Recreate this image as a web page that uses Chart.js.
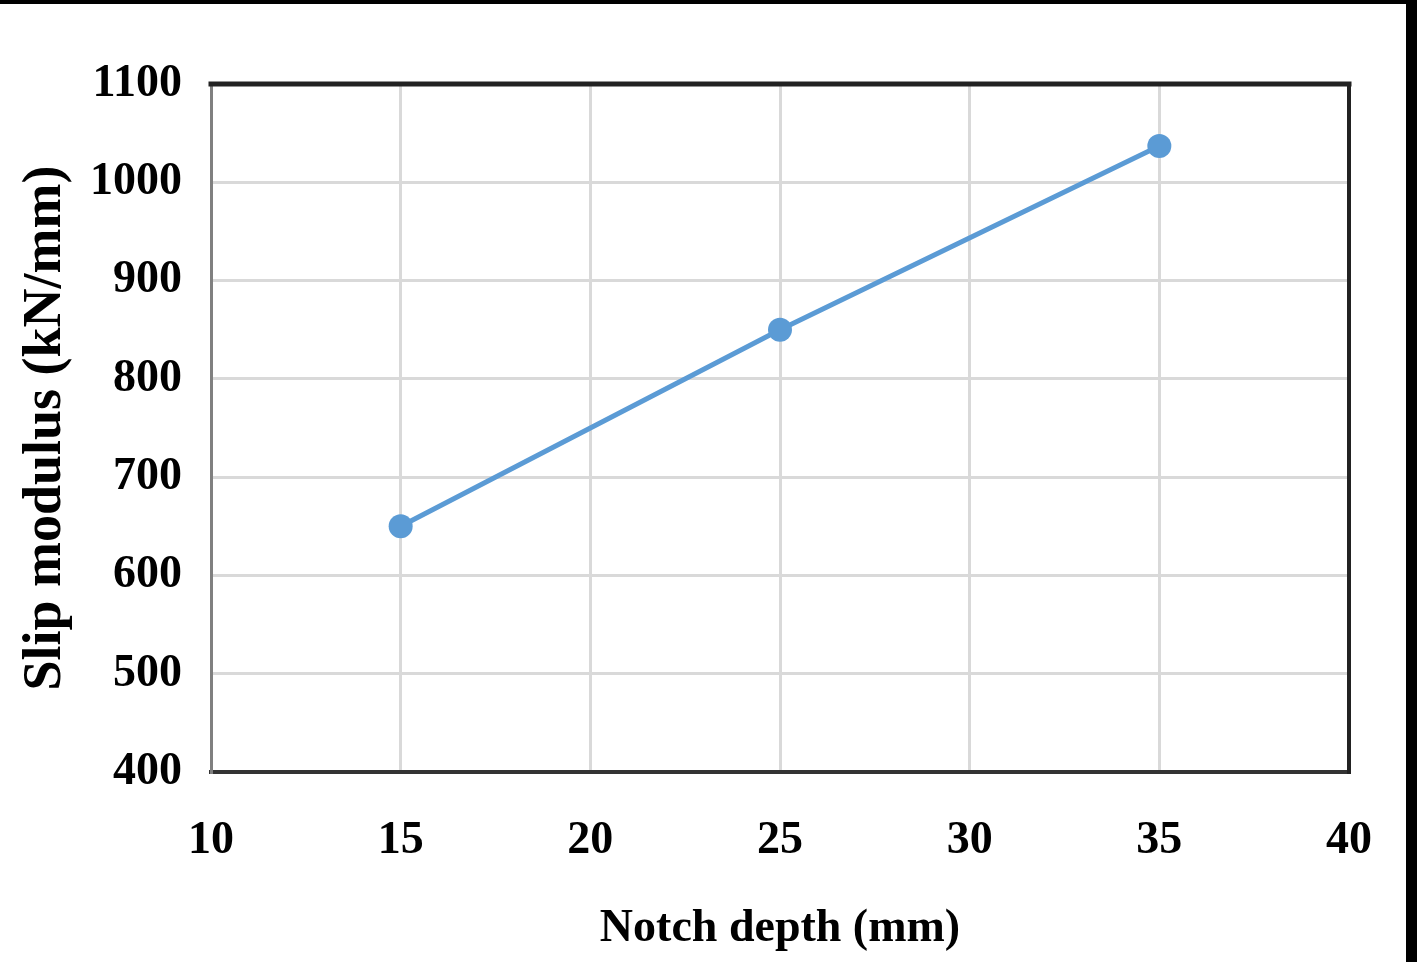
<!DOCTYPE html>
<html>
<head>
<meta charset="utf-8">
<title>Slip modulus vs notch depth</title>
<script src="https://cdn.jsdelivr.net/npm/chart.js@4.4.1/dist/chart.umd.min.js"></script>
<style>
    html, body { margin: 0; padding: 0; background: #fff; }
    #frame {
        width: 1406px;
        height: 958px;
        border-top: 4px solid #000;
        border-right: 11px solid #000;
        background: #fff;
    }
    #wrap { position: relative; width: 1406px; height: 958px; }
</style>
</head>
<body>
<div id="frame">
    <div id="wrap"><canvas id="chart"></canvas></div>
</div>
<script>
// Data
const notchDepth = [15, 25, 35];              // mm
const slipModulus = [650, 850, 1037];         // kN/mm
const xTickValues = [10, 15, 20, 25, 30, 35, 40];
const yTickValues = [400, 500, 600, 700, 800, 900, 1000, 1100];

const FONT_FAMILY = "'Liberation Serif', 'Times New Roman', serif";

// Dark frame on top and right of the plot area (Excel-style box)
const plotFrame = {
    id: 'plotFrame',
    afterDatasetsDraw(chart) {
        const { ctx, chartArea: a } = chart;
        ctx.save();
        ctx.lineCap = 'square';
        ctx.strokeStyle = '#222';
        ctx.lineWidth = 5;
        ctx.beginPath();
        ctx.moveTo(a.left, a.top);
        ctx.lineTo(a.right, a.top);
        ctx.stroke();
        ctx.lineWidth = 4;
        ctx.beginPath();
        ctx.moveTo(a.right, a.top);
        ctx.lineTo(a.right, a.bottom);
        ctx.stroke();
        ctx.restore();
    }
};

const ctx = document.getElementById('chart');
new Chart(ctx, {
    type: 'line',
    data: {
        datasets: [{
            label: 'Slip modulus',
            data: notchDepth.map((x, i) => ({ x: x, y: slipModulus[i] })),
            borderColor: '#5b9bd5',
            backgroundColor: '#5b9bd5',
            borderWidth: 5,
            pointRadius: 12,
            pointHoverRadius: 12,
            pointBorderWidth: 0,
            tension: 0
        }]
    },
    options: {
        responsive: true,
        maintainAspectRatio: false,
        animation: false,
        layout: { padding: { top: 80, right: 57, left: 0, bottom: 0 } },
        plugins: {
            legend: { display: false },
            tooltip: { enabled: false }
        },
        scales: {
            x: {
                type: 'linear',
                min: 10,
                max: 40,
                afterBuildTicks: s => { s.ticks = xTickValues.map(v => ({ value: v })); },
                afterFit: s => { s.height = 190; },
                // invisible tick marks just push the labels down
                grid: { color: '#d9d9d9', lineWidth: 3, drawTicks: true, tickLength: 12, tickColor: 'rgba(0,0,0,0)' },
                border: { color: '#333', width: 4 },
                ticks: {
                    color: '#000',
                    padding: 30,
                    maxRotation: 0,
                    callback: v => String(v),
                    font: { family: FONT_FAMILY, size: 46, weight: 'bold' }
                },
                title: {
                    display: true,
                    text: 'Notch depth (mm)',
                    color: '#000',
                    padding: { top: 0, bottom: 5 },
                    font: { family: FONT_FAMILY, size: 46, weight: 'bold' }
                }
            },
            y: {
                min: 400,
                max: 1100,
                afterBuildTicks: s => { s.ticks = yTickValues.map(v => ({ value: v })); },
                afterFit: s => { s.width = 211; },
                grid: { color: '#d9d9d9', lineWidth: 3, drawTicks: false },
                border: { color: '#808080', width: 3 },
                ticks: {
                    color: '#000',
                    padding: 29,
                    callback: v => String(v),
                    font: { family: FONT_FAMILY, size: 46, weight: 'bold' }
                },
                title: {
                    display: true,
                    text: 'Slip modulus (kN/mm)',
                    color: '#000',
                    padding: { top: 14, bottom: 0 },
                    font: { family: FONT_FAMILY, size: 54, weight: 'bold' }
                }
            }
        }
    },
    plugins: [plotFrame]
});
</script>
</body>
</html>
